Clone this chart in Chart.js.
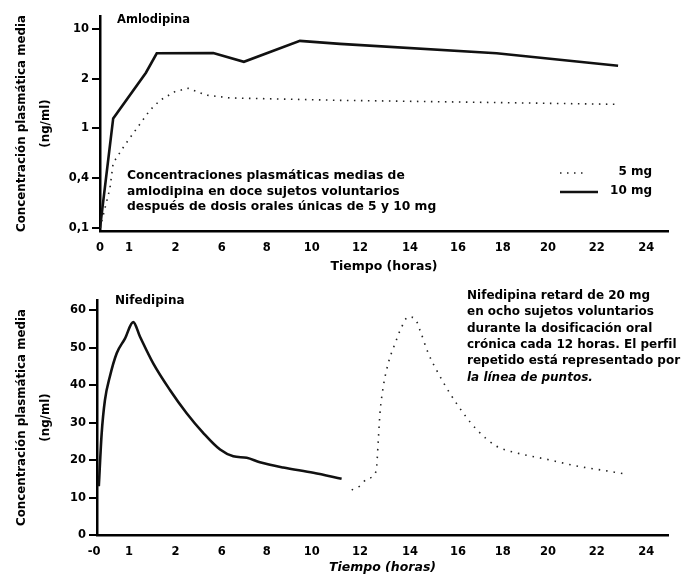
<!DOCTYPE html>
<html lang="es">
<head>
<meta charset="UTF-8">
<title>Amlodipina / Nifedipina</title>
<script src="https://cdn.jsdelivr.net/npm/chart.js"></script>
<style>
  body { margin: 0; background: #fff; }
  #wrap { position: relative; width: 681px; height: 576px; }
  .box { position: absolute; left: 0; width: 681px; height: 288px; }
</style>
</head>
<body>
<div id="wrap">
  <div class="box" style="top:0"><canvas id="amlChart" width="681" height="288"></canvas></div>
  <div class="box" style="top:288px"><canvas id="nifChart" width="681" height="288"></canvas></div>
</div>
<script>
    const FONT = '"DejaVu Sans", "Liberation Sans", sans-serif';

    // time axis as printed: labels and where they sit (axis units, one slot ~ one label step)
    const X_LABELS = ['0', '1', '2', '6', '8', '10', '12', '14', '16', '18', '20', '22', '24'];
    const X_POS = [0, 1.23, 3.21, 5.17, 7.08, 8.99, 11.04, 13.16, 15.2, 17.1, 19.02, 21.09, 23.2];
    const NIF_X_LABELS = ['-0', '1', '2', '6', '8', '10', '12', '14', '16', '18', '20', '22', '24'];
    const NIF_X_POS = [-0.25, 1.23, 3.21, 5.17, 7.08, 8.99, 11.04, 13.16, 15.2, 17.1, 19.02, 21.09, 23.2];

    // amlodipina y axis: equally spaced ticks, not a true log scale
    const AML_Y_TICKS = [0.1, 0.4, 1, 2, 10];
    const AML_Y_LABELS = ['0,1', '0,4', '1', '2', '10'];

    // amlodipina 5 mg (ng/ml)
    const AML_5MG_X = [0, 0.42, 0.56, 1.06, 1.56, 2.12, 2.55, 3.18, 3.74, 4.53, 5.52, 10.19, 16.1, 21.9];
    const AML_5MG = [0.1, 0.30, 0.53, 0.74, 1.0, 1.29, 1.48, 1.67, 1.75, 1.59, 1.53, 1.48, 1.44, 1.40];
    // amlodipina 10 mg (ng/ml)
    const AML_10MG_X = [0, 0.56, 1.95, 2.41, 4.81, 6.11, 8.49, 10.19, 16.84, 22.0];
    const AML_10MG = [0.1, 1.15, 2.43, 4.55, 4.6, 3.46, 6.8, 6.17, 4.55, 3.04];

    // nifedipina retard 20 mg (ng/ml)
    const NIF_Y_TICKS = [0, 10, 20, 30, 40, 50, 60];
    const NIF_X = [-0.05, 0.07, 0.21, 0.42, 0.71, 1.06, 1.41, 1.70, 2.26, 2.97, 3.68, 4.39, 5.10, 5.66, 6.23, 6.79, 7.78, 9.06, 10.26];
    const NIF = [13, 27, 36, 42.3, 48.5, 52.4, 56.8, 52.9, 45.8, 38.7, 32.5, 27.2, 22.8, 21.0, 20.6, 19.4, 18.0, 16.6, 15.0];
    // repeated profile (dotted)
    const NIF_REP_X = [10.69, 11.04, 11.32, 11.68, 11.75, 11.82, 11.89, 12.03, 12.24, 12.53, 12.81, 13.09, 13.38, 13.59, 13.94, 14.36, 14.86, 15.43, 16.0, 16.84, 17.69, 18.97, 20.24, 21.52, 22.36];
    const NIF_REP = [12.0, 13.1, 14.9, 16.4, 18.4, 25.5, 32.5, 39.6, 45.8, 51.1, 55.5, 58.2, 57.7, 54.6, 48.5, 43.2, 37.8, 32.5, 28.1, 23.7, 21.9, 20.2, 18.4, 17.1, 16.2];

    const AML_TITLE = 'Amlodipina';
    const AML_NOTE = ['Concentraciones plasmáticas medias de', 'amlodipina en doce sujetos voluntarios', 'después de dosis orales únicas de 5 y 10 mg'];
    const NIF_TITLE = 'Nifedipina';
    const NIF_NOTE = ['Nifedipina retard de 20 mg', 'en ocho sujetos voluntarios', 'durante la dosificación oral', 'crónica cada 12 horas. El perfil', 'repetido está representado por'];
    const NIF_NOTE_LAST = 'la línea de puntos.';
    const Y_TITLE = ['Concentración plasmática media', '(ng/ml)'];

    // place a concentration on the equally spaced amlodipina ticks (log between neighbours)
    function amlPos(v) {
        for (let i = 0; i < AML_Y_TICKS.length - 1; i++) {
            const lo = AML_Y_TICKS[i], hi = AML_Y_TICKS[i + 1];
            if (v <= hi || i === AML_Y_TICKS.length - 2) {
                return i + Math.log(v / lo) / Math.log(hi / lo);
            }
        }
    }

    function pts(xs, ys) {
        return xs.map((x, i) => ({ x: x, y: ys[i] }));
    }

    // free text + legend samples drawn on top of the chart
    const notes = {
        id: 'notes',
        afterDraw(chart, args, opts) {
            const ctx = chart.ctx;
            ctx.save();
            ctx.fillStyle = '#000';
            ctx.strokeStyle = '#000';
            ctx.textBaseline = 'middle';
            (opts.texts || []).forEach(t => {
                ctx.font = t.font;
                ctx.textAlign = t.align || 'left';
                ctx.fillText(t.text, t.x, t.y);
            });
            (opts.samples || []).forEach(s => {
                const ds = chart.data.datasets[s.dataset];
                ctx.beginPath();
                ctx.setLineDash(ds.borderDash || []);
                ctx.lineWidth = ds.borderWidth;
                ctx.strokeStyle = ds.borderColor;
                ctx.moveTo(s.x0, s.y);
                ctx.lineTo(s.x1, s.y);
                ctx.stroke();
            });
            ctx.restore();
        }
    };

    const bold = size => 'bold ' + size + 'px ' + FONT;

    function xScale(labels, positions, min, height, titleFont, titlePad) {
        return {
            type: 'linear', min: min, max: 24.12,
            grid: { display: false, drawTicks: false },
            border: { color: '#000', width: 2.5 },
            afterBuildTicks: s => { s.ticks = positions.map(v => ({ value: v })); },
            afterFit: s => { s.height = height; },
            ticks: {
                autoSkip: false, maxRotation: 0, padding: 10, color: '#000',
                font: { family: FONT, size: 11.5, weight: 'bold' },
                callback: (v, i) => labels[i]
            },
            title: {
                display: true, text: 'Tiempo (horas)', color: '#000',
                font: titleFont, padding: { top: 0, bottom: titlePad }
            }
        };
    }

    function yScale(min, max, tickValues, labelOf, width) {
        return {
            type: 'linear', min: min, max: max,
            afterBuildTicks: s => { s.ticks = tickValues.map(v => ({ value: v })); },
            afterFit: s => { s.width = width; },
            grid: { drawOnChartArea: false, drawTicks: true, tickLength: 8, color: '#000', lineWidth: 2 },
            border: { color: '#000', width: 2.5 },
            ticks: {
                padding: 3, color: '#000',
                font: { family: FONT, size: 11.5, weight: 'bold' },
                callback: labelOf
            },
            title: {
                display: true, text: Y_TITLE, color: '#000',
                font: { family: FONT, size: 11.8, weight: 'bold', lineHeight: 2.05 },
                padding: { top: 10, bottom: 0 }
            }
        };
    }

    // ---- Amlodipina ----
    new Chart(document.getElementById('amlChart'), {
        type: 'line',
        data: {
            datasets: [
                { label: '5 mg', data: pts(AML_5MG_X, AML_5MG.map(amlPos)), borderColor: '#222', borderWidth: 1.6, borderDash: [1.5, 5.5], pointRadius: 0, tension: 0 },
                { label: '10 mg', data: pts(AML_10MG_X, AML_10MG.map(amlPos)), borderColor: '#111', borderWidth: 2.6, pointRadius: 0, tension: 0 }
            ]
        },
        options: {
            responsive: false,
            animation: false,
            layout: { padding: { top: 16, right: 13, left: 0, bottom: 0 } },
            plugins: {
                legend: { display: false },
                tooltip: { enabled: false },
                notes: {
                    texts: [
                        { text: AML_TITLE, x: 117, y: 20, font: bold(11.5) },
                        { text: AML_NOTE[0], x: 127, y: 176, font: bold(12.3) },
                        { text: AML_NOTE[1], x: 127, y: 191.5, font: bold(12.3) },
                        { text: AML_NOTE[2], x: 127, y: 207, font: bold(12.3) },
                        { text: '5 mg', x: 652, y: 172, font: bold(12) , align: 'right' },
                        { text: '10 mg', x: 652, y: 191, font: bold(12), align: 'right' }
                    ],
                    samples: [
                        { dataset: 0, x0: 560, x1: 586, y: 173 },
                        { dataset: 1, x0: 560, x1: 598, y: 192 }
                    ]
                }
            },
            scales: {
                x: xScale(X_LABELS, X_POS, 0, 57, { family: FONT, size: 12.5, weight: 'bold' }, 14),
                y: yScale(-0.06, 4.26, [0, 1, 2, 3, 4], (v, i) => AML_Y_LABELS[i], 100)
            }
        },
        plugins: [notes]
    });

    // ---- Nifedipina ----
    new Chart(document.getElementById('nifChart'), {
        type: 'line',
        data: {
            datasets: [
                { label: 'Nifedipina', data: pts(NIF_X, NIF), borderColor: '#111', borderWidth: 2.6, pointRadius: 0, cubicInterpolationMode: 'monotone' },
                { label: 'Perfil repetido', data: pts(NIF_REP_X, NIF_REP), borderColor: '#222', borderWidth: 1.6, borderDash: [1.5, 6], pointRadius: 0, cubicInterpolationMode: 'monotone' }
            ]
        },
        options: {
            responsive: false,
            animation: false,
            layout: { padding: { top: 12, right: 13, left: 0, bottom: 0 } },
            plugins: {
                legend: { display: false },
                tooltip: { enabled: false },
                notes: {
                    texts: [
                        { text: NIF_TITLE, x: 115, y: 12.7, font: bold(12) }
                    ].concat(NIF_NOTE.map((t, i) => ({ text: t, x: 467, y: 8 + i * 16.3, font: bold(12) })))
                     .concat([{ text: NIF_NOTE_LAST, x: 467, y: 8 + 5 * 16.3, font: 'italic ' + bold(12) }])
                }
            },
            scales: {
                x: xScale(NIF_X_LABELS, NIF_X_POS, -0.127, 41, { family: FONT, size: 12.5, weight: 'bold', style: 'italic' }, 0.5),
                y: yScale(0, 62.7, NIF_Y_TICKS, v => String(v), 97)
            }
        },
        plugins: [notes]
    });
</script>
</body>
</html>
